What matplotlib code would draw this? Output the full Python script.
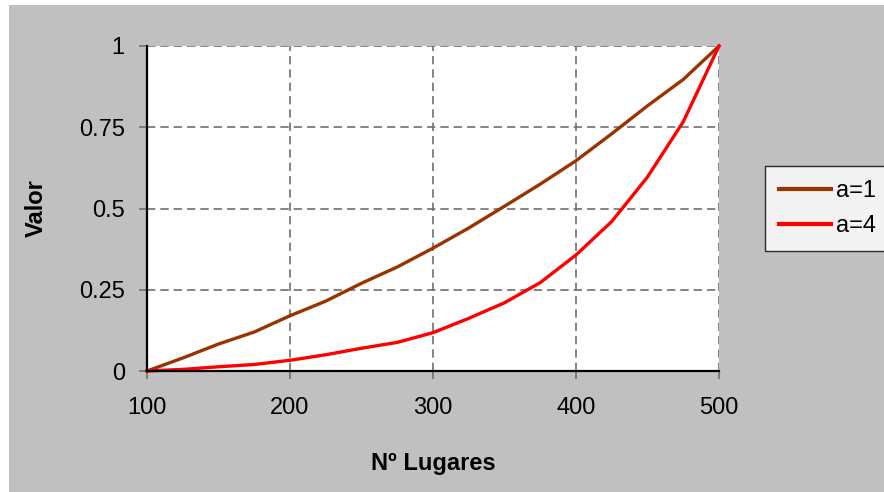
import numpy as np
import matplotlib
matplotlib.use("Agg")
import matplotlib.pyplot as plt
from matplotlib.patches import Rectangle

# --- datos --- #
lugares = [100, 125, 150, 175, 200, 225, 250, 275, 300, 325, 350, 375, 400, 425, 450, 475, 500]
valor_a1 = [0, 0.04, 0.083, 0.12, 0.17, 0.215, 0.27, 0.32, 0.378, 0.44, 0.507, 0.575, 0.647, 0.73, 0.816, 0.897, 1]
valor_a4 = [0, 0.005, 0.013, 0.02, 0.033, 0.05, 0.07, 0.088, 0.118, 0.162, 0.21, 0.272, 0.357, 0.46, 0.597, 0.767, 1]
x_ticks = [100, 200, 300, 400, 500]
y_ticks = [0, 0.25, 0.5, 0.75, 1]
y_tick_labels = ["0", "0.25", "0.5", "0.75", "1"]
nombres = ["a=1", "a=4"]

# --- estilo --- #
color_a1 = "#993300"
color_a4 = "#FF0000"
color_fondo = "#C0C0C0"
color_rejilla = "#707070"
plt.rcParams["font.family"] = ["Liberation Sans", "DejaVu Sans"]
plt.rcParams["font.size"] = 17

W, H = 884, 492
fig = plt.figure(figsize=(W / 100, H / 100), dpi=100)
fig.patch.set_facecolor("white")
fig.patches.append(Rectangle((9 / W, 0), 1, (H - 5) / H, transform=fig.transFigure,
                             facecolor=color_fondo, edgecolor="none", zorder=-10))

ax = fig.add_axes([147 / W, (H - 371) / H, (719 - 147) / W, (371 - 46) / H])
ax.set_facecolor("white")

ax.plot(lugares, valor_a1, color=color_a1, lw=2.4, label=nombres[0], clip_on=False, zorder=3)
ax.plot(lugares, valor_a4, color=color_a4, lw=2.4, label=nombres[1], clip_on=False, zorder=3)

ax.set_xlim(100, 500)
ax.set_ylim(0, 1)
ax.set_xticks(x_ticks)
ax.set_yticks(y_ticks)
ax.set_yticklabels(y_tick_labels)
ax.grid(True, color=color_rejilla, linestyle=(0, (5, 3)), lw=1.2)
ax.set_axisbelow(True)

for lado in ["top", "right"]:
    ax.spines[lado].set_visible(False)
for lado in ["left", "bottom"]:
    ax.spines[lado].set_color("black")
    ax.spines[lado].set_linewidth(1.6)
    ax.spines[lado].set_zorder(4)

ax.tick_params(axis="both", direction="out", length=6, width=1.2, color=color_rejilla)
ax.tick_params(axis="x", pad=13)
ax.tick_params(axis="y", pad=10)

ax.set_ylabel("Valor", fontweight="bold")
ax.set_xlabel("Nº Lugares", fontweight="bold")
ax.yaxis.set_label_coords(-0.173, 0.5)
ax.xaxis.set_label_coords(0.5, -0.249)

leg = ax.legend(loc="upper left", bbox_to_anchor=(765 / W, (H - 250) / H, (900 - 765) / W, 84 / H),
                bbox_transform=fig.transFigure, mode="expand", fancybox=False, frameon=True,
                edgecolor="black", handlelength=2.2, handletextpad=0.2, labelspacing=0.55,
                borderaxespad=0, borderpad=0.6)
leg.get_frame().set_linewidth(1)
for linea in leg.get_lines():
    linea.set_linewidth(3)

fig.savefig("out.png", dpi=100, facecolor=fig.get_facecolor())
